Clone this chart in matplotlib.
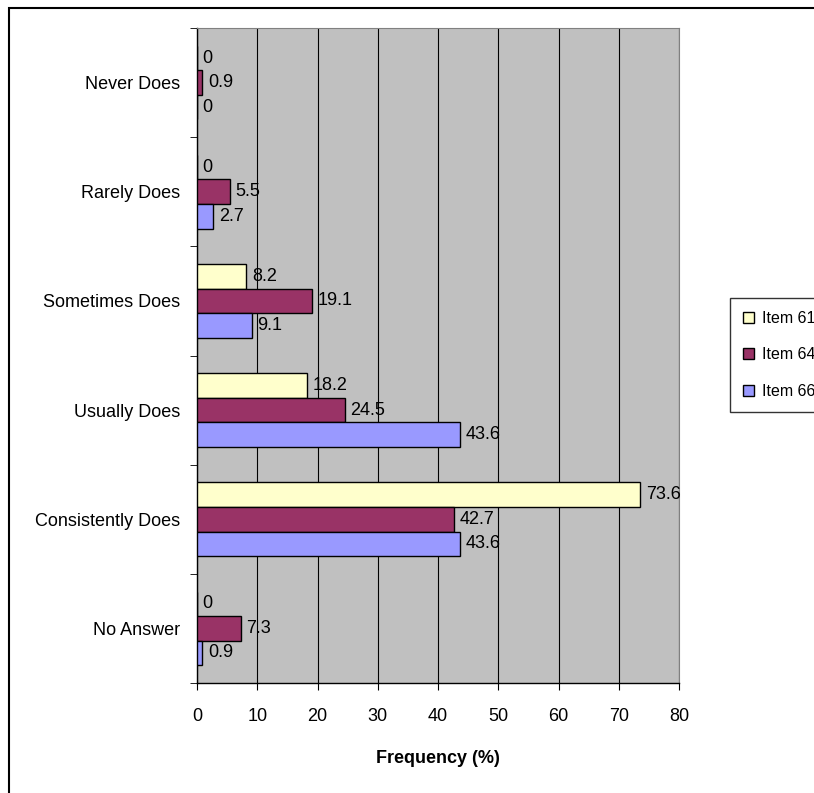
import matplotlib.pyplot as plt
from matplotlib.patches import Rectangle
import numpy as np

plt.rcParams['font.family'] = ['Liberation Sans', 'DejaVu Sans']

# categorias (de cima para baixo) e frequências em %
categorias = ["Never Does", "Rarely Does", "Sometimes Does", "Usually Does",
              "Consistently Does", "No Answer"]
item_61 = [0, 0, 8.2, 18.2, 73.6, 0]
item_64 = [0.9, 5.5, 19.1, 24.5, 42.7, 7.3]
item_66 = [0, 2.7, 9.1, 43.6, 43.6, 0.9]
series = ["Item 61", "Item 64", "Item 66"]
cores = ["#FFFFCC", "#993366", "#9999FF"]

fig = plt.figure(figsize=(8.14, 7.93), dpi=100)
ax = fig.add_axes([197 / 814, 1 - 683 / 793, (679 - 197) / 814, (683 - 28) / 793])

# moldura do gráfico (sai pela direita e por baixo)
fig.patches.append(Rectangle((9 / 814, -0.05), 1.1, 1 - 8 / 793 + 0.05,
                             transform=fig.transFigure, fill=False,
                             edgecolor="black", linewidth=1.5, clip_on=False))

ax.set_facecolor("#C0C0C0")
y = np.arange(len(categorias))
h = 0.225
for k, (vals, nome, cor) in enumerate(zip([item_61, item_64, item_66], series, cores)):
    barras = ax.barh(y + (k - 1) * h, vals, height=h, color=cor,
                     edgecolor="black", linewidth=1, label=nome, zorder=3)
    ax.bar_label(barras, fmt="%g", padding=4, fontsize=13)

ax.set_xlim(0, 80)
ax.set_ylim(len(categorias) - 0.5, -0.5)
ax.set_xticks(range(0, 81, 10))
ax.tick_params(axis="x", labelsize=13, length=5, pad=13)
ax.set_yticks(y)
ax.set_yticklabels(categorias, fontsize=13)
ax.tick_params(axis="y", length=0, pad=12)
ax.set_yticks(np.arange(-0.5, len(categorias), 1), minor=True)
ax.tick_params(axis="y", which="minor", length=5)
ax.grid(axis="x", color="black", linewidth=0.8, zorder=1)
ax.set_axisbelow(True)

for lado in ["top", "right"]:
    ax.spines[lado].set_color("#808080")
ax.spines["left"].set_linewidth(1)
ax.spines["bottom"].set_linewidth(1)

ax.set_xlabel("Frequency (%)", fontsize=13, fontweight="bold", labelpad=18)

fig.legend(loc="upper left", bbox_to_anchor=(730 / 814, 1 - 298 / 793),
           fontsize=11.5, frameon=True, fancybox=False, edgecolor="black",
           handlelength=0.7, handleheight=0.7, handletextpad=0.5,
           labelspacing=1.35, borderpad=0.8, borderaxespad=0)

plt.savefig("out.png", dpi=100)
